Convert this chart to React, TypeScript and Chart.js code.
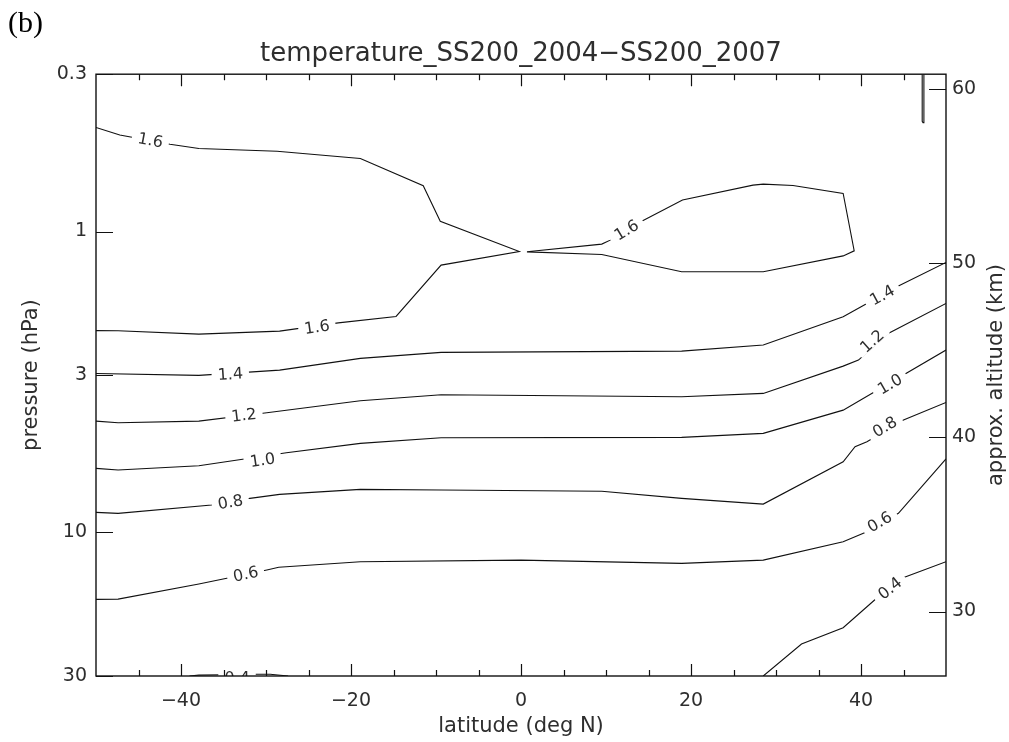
import React, { useEffect, useRef } from "react";
import { Chart, registerables } from "chart.js";

Chart.register(...registerables);

const FONT = "'DejaVu Sans', sans-serif";
const INK = "#2e2e2e";
const LINE = "#111111";

// ---- axes ----
const xMajorTicks = [-40, -20, 0, 20, 40];
const xMinorTicks = [-45, -35, -30, -25, -15, -10, -5, 5, 10, 15, 25, 30, 35, 45];
const pressureTicks = [0.3, 1, 3, 10, 30];
const altitudeTicks = [30, 40, 50, 60];
const SCALE_HEIGHT_KM = 7.5;
const SURFACE_HPA = 1000;
const altitudeOf = (p: number) => SCALE_HEIGHT_KM * Math.log(SURFACE_HPA / p);

// ---- contours (latitude, pressure hPa) ----
const c16WestLat = [-50, -47.2, -41.3, -37.9, -28.7, -18.9, -11.5, -9.5, -0.2, -9.4, -14.7, -21.5, -28.4, -37.9, -47.4, -50];
const c16WestP = [0.451, 0.478, 0.513, 0.53, 0.541, 0.572, 0.704, 0.924, 1.166, 1.293, 1.915, 2.011, 2.142, 2.192, 2.137, 2.134];

const c16EastLat = [0.7, 9.5, 10.5, 14.2, 19.0, 27.3, 28.5, 32.0, 37.9, 39.2, 37.9, 28.5, 18.9, 9.5, 0.7];
const c16EastP = [1.168, 1.101, 1.068, 0.924, 0.786, 0.701, 0.696, 0.703, 0.747, 1.159, 1.205, 1.361, 1.361, 1.192, 1.168];

const c16TopLat = [47.2, 47.2, 47.3, 47.4, 47.4];
const c16TopP = [0.3, 0.43, 0.435, 0.43, 0.3];

const c14Lat = [-50, -37.9, -28.4, -18.9, -9.4, 18.9, 28.5, 37.9, 40.7, 44.4, 50];
const c14P = [2.962, 3.007, 2.888, 2.64, 2.522, 2.497, 2.384, 1.921, 1.734, 1.518, 1.267];

const c12Lat = [-50, -47.4, -37.9, -29.9, -18.9, -9.4, 18.9, 28.5, 37.9, 39.7, 43.2, 50];
const c12P = [4.265, 4.321, 4.265, 4.003, 3.651, 3.487, 3.541, 3.451, 2.801, 2.675, 2.181, 1.734];

const c10Lat = [-50, -47.4, -37.9, -27.6, -18.9, -9.4, 18.9, 28.5, 37.9, 50];
const c10P = [6.125, 6.204, 6.003, 5.436, 5.058, 4.846, 4.832, 4.686, 3.922, 2.477];

const c08Lat = [-50, -47.4, -36.4, -31.9, -28.4, -18.9, -9.4, 9.5, 18.9, 28.5, 37.9, 39.3, 40.7, 45.0, 50];
const c08P = [8.577, 8.644, 8.11, 7.703, 7.471, 7.192, 7.23, 7.3, 7.703, 8.049, 5.823, 5.192, 4.996, 4.233, 3.697];

const c06Lat = [-50, -47.4, -37.9, -29.9, -28.5, -18.9, 0, 18.9, 28.5, 37.9, 40.7, 44.4, 50];
const c06P = [16.69, 16.66, 14.84, 13.33, 13.06, 12.51, 12.36, 12.67, 12.36, 10.74, 9.95, 8.64, 5.7];

const c04EastLat = [28.5, 33.0, 37.9, 41.6, 44.8, 50];
const c04EastP = [30, 23.49, 20.73, 16.77, 14.21, 12.51];

const c04WestLat = [-39, -37.9, -35, -31, -29.5, -27.4];
const c04WestP = [30, 29.8, 29.7, 29.6, 29.6, 30];

// ---- contour labels ----
const labelText = ["1.6", "1.6", "1.6", "1.4", "1.4", "1.2", "1.2", "1.0", "1.0", "0.8", "0.8", "0.6", "0.6", "0.4", "0.4"];
const labelLat = [-43.6, -24.0, 12.4, -34.2, 42.5, -32.6, 41.3, -30.4, 43.4, -34.2, 42.8, -32.4, 42.2, 43.4, -33.4];
const labelP = [0.497, 2.078, 0.989, 2.977, 1.627, 4.074, 2.312, 5.749, 3.214, 7.925, 4.457, 13.75, 9.215, 15.34, 30.4];

const contourSets: [string, number[], number[]][] = [
  ["1.6 west", c16WestLat, c16WestP],
  ["1.6 east", c16EastLat, c16EastP],
  ["1.6 top", c16TopLat, c16TopP],
  ["1.4", c14Lat, c14P],
  ["1.2", c12Lat, c12P],
  ["1.0", c10Lat, c10P],
  ["0.8", c08Lat, c08P],
  ["0.6", c06Lat, c06P],
  ["0.4 east", c04EastLat, c04EastP],
  ["0.4 west", c04WestLat, c04WestP],
];

const fmtLat = (v: number) => (v < 0 ? "\u2212" + Math.abs(v) : String(v));

function segDist(px: number, py: number, ax: number, ay: number, bx: number, by: number) {
  const dx = bx - ax, dy = by - ay;
  const l2 = dx * dx + dy * dy || 1;
  let t = ((px - ax) * dx + (py - ay) * dy) / l2;
  t = Math.max(0, Math.min(1, t));
  const qx = ax + t * dx, qy = ay + t * dy;
  return Math.hypot(px - qx, py - qy);
}

const decorPlugin = {
  id: "decor",
  afterDatasetsDraw(chart: any) {
    const { ctx, chartArea: a, scales } = chart;
    ctx.save();
    ctx.beginPath();
    ctx.rect(a.left, a.top, a.right - a.left, a.bottom - a.top);
    ctx.clip();
    ctx.font = `16px ${FONT}`;
    labelText.forEach((t, i) => {
      const px = scales.x.getPixelForValue(labelLat[i]);
      const py = scales.y.getPixelForValue(labelP[i]);
      let best = Infinity;
      let ang = 0;
      chart.data.datasets.forEach((_: any, di: number) => {
        const pts = chart.getDatasetMeta(di).data;
        for (let k = 0; k < pts.length - 1; k++) {
          const p0 = pts[k], p1 = pts[k + 1];
          const d = segDist(px, py, p0.x, p0.y, p1.x, p1.y);
          if (d < best) {
            best = d;
            ang = Math.atan2(p1.y - p0.y, p1.x - p0.x);
          }
        }
      });
      if (ang > Math.PI / 2) ang -= Math.PI;
      if (ang < -Math.PI / 2) ang += Math.PI;
      const w = ctx.measureText(t).width;
      ctx.save();
      ctx.translate(px, py);
      ctx.rotate(ang);
      ctx.fillStyle = "#ffffff";
      ctx.fillRect(-w / 2 - 6, -6, w + 12, 12);
      ctx.fillStyle = INK;
      ctx.textAlign = "center";
      ctx.textBaseline = "middle";
      ctx.fillText(t, 0, 1);
      ctx.restore();
    });
    ctx.restore();
  },
  afterDraw(chart: any) {
    const { ctx, chartArea: a, scales } = chart;
    ctx.save();
    ctx.strokeStyle = LINE;
    ctx.lineWidth = 1.4;
    ctx.strokeRect(a.left, a.top, a.right - a.left, a.bottom - a.top);
    ctx.lineWidth = 1.2;
    ctx.beginPath();
    const xt = (v: number, len: number) => {
      const x = Math.round(scales.x.getPixelForValue(v)) + 0.5;
      ctx.moveTo(x, a.bottom);
      ctx.lineTo(x, a.bottom - len);
      ctx.moveTo(x, a.top);
      ctx.lineTo(x, a.top + len);
    };
    xMajorTicks.forEach((v) => xt(v, 12));
    xMinorTicks.forEach((v) => xt(v, 6));
    pressureTicks.forEach((v) => {
      const y = Math.round(scales.y.getPixelForValue(v)) + 0.5;
      ctx.moveTo(a.left, y);
      ctx.lineTo(a.left + 17, y);
    });
    altitudeTicks.forEach((v) => {
      const y = Math.round(scales.y2.getPixelForValue(v)) + 0.5;
      ctx.moveTo(a.right, y);
      ctx.lineTo(a.right - 17, y);
    });
    ctx.stroke();

    // right axis title (reads bottom-to-top)
    ctx.fillStyle = INK;
    ctx.font = `21px ${FONT}`;
    ctx.textAlign = "center";
    ctx.textBaseline = "alphabetic";
    ctx.save();
    ctx.translate(1002, (scales.y2.top + scales.y2.bottom) / 2);
    ctx.rotate(-Math.PI / 2);
    ctx.fillText("approx. altitude (km)", 0, 0);
    ctx.restore();

    // panel letter
    ctx.font = "30px 'Liberation Serif', 'Times New Roman', serif";
    ctx.textAlign = "left";
    ctx.fillStyle = "#000";
    ctx.fillText("(b)", 8, 32);
    ctx.restore();
  },
};

export default function App() {
  const canvasRef = useRef<HTMLCanvasElement | null>(null);

  useEffect(() => {
    if (!canvasRef.current) return;
    const tickFont = { family: FONT, size: 19 };
    const titleFont = { family: FONT, size: 21 };
    const chart = new Chart(canvasRef.current, {
      type: "scatter",
      data: {
        datasets: contourSets.map(([name, lat, p]) => ({
          label: name,
          data: lat.map((x, i) => ({ x, y: p[i] })),
          showLine: true,
          borderColor: LINE,
          borderWidth: 1.1,
          pointRadius: 0,
          pointHoverRadius: 0,
          tension: 0,
          fill: false,
          yAxisID: "y",
        })),
      },
      options: {
        responsive: false,
        animation: false,
        devicePixelRatio: 1,
        events: [],
        layout: { padding: 0 },
        plugins: {
          legend: { display: false },
          tooltip: { enabled: false },
          title: {
            display: true,
            fullSize: false,
            text: "temperature_SS200_2004\u2212SS200_2007",
            color: INK,
            font: { family: FONT, size: 26, weight: "normal" },
            padding: { top: 39, bottom: 4 },
          },
        },
        scales: {
          x: {
            type: "linear",
            position: "bottom",
            min: -50,
            max: 50,
            afterBuildTicks: (s: any) => {
              s.ticks = xMajorTicks.map((value) => ({ value }));
            },
            afterFit: (s: any) => {
              s.height = 66;
            },
            grid: { display: false, drawTicks: false },
            border: { display: false },
            ticks: {
              autoSkip: false,
              maxRotation: 0,
              padding: 14,
              color: INK,
              font: tickFont,
              callback: (v: any) => fmtLat(Number(v)),
            },
            title: {
              display: true,
              text: "latitude (deg N)",
              color: INK,
              font: titleFont,
              padding: { top: 0, bottom: 3 },
            },
          },
          y: {
            type: "logarithmic",
            position: "left",
            reverse: true,
            min: 0.3,
            max: 30,
            afterBuildTicks: (s: any) => {
              s.ticks = pressureTicks.map((value) => ({ value }));
            },
            afterFit: (s: any) => {
              s.width = 96;
            },
            grid: { display: false, drawTicks: false },
            border: { display: false },
            ticks: {
              autoSkip: false,
              padding: 9,
              color: INK,
              font: tickFont,
              callback: (v: any) => String(v),
            },
            title: {
              display: true,
              text: "pressure (hPa)",
              color: INK,
              font: titleFont,
              padding: { top: 19, bottom: 0 },
            },
          },
          y2: {
            type: "linear",
            position: "right",
            min: altitudeOf(30),
            max: altitudeOf(0.3),
            afterBuildTicks: (s: any) => {
              s.ticks = altitudeTicks.map((value) => ({ value }));
            },
            afterFit: (s: any) => {
              s.width = 63;
            },
            grid: { display: false, drawTicks: false },
            border: { display: false },
            ticks: {
              autoSkip: false,
              padding: 6,
              color: INK,
              font: tickFont,
              callback: (v: any) => String(v),
            },
          },
        },
      } as any,
      plugins: [decorPlugin],
    });
    return () => chart.destroy();
  }, []);

  return (
    <div style={{ position: "absolute", left: 0, top: 0, width: 1009, height: 742, background: "#fff" }}>
      <canvas ref={canvasRef} width={1009} height={742} style={{ display: "block" }} />
    </div>
  );
}
